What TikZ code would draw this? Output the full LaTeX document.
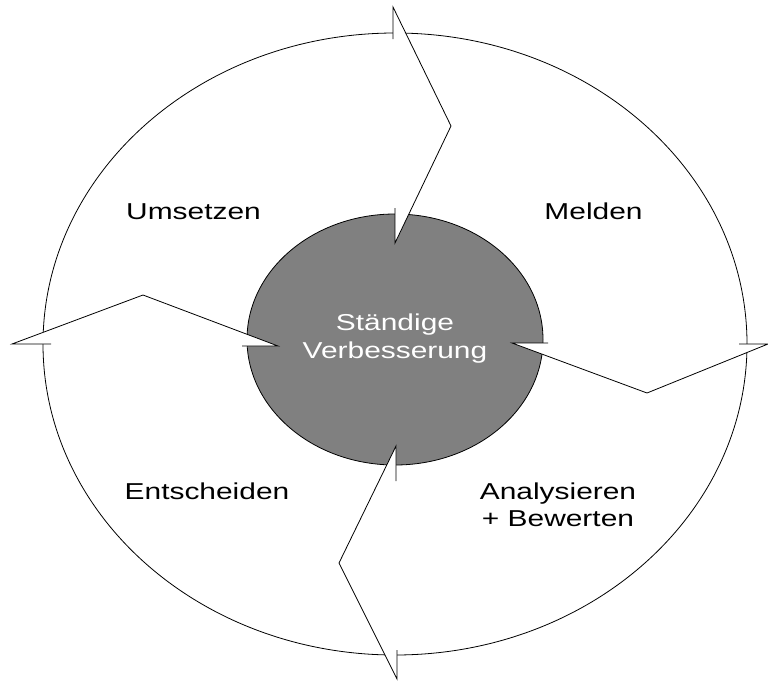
\documentclass[tikz,border=0pt]{standalone}
\usepackage{fontspec}
\newfontfamily\labelfont[FakeStretch=1.3]{Liberation Sans}

\begin{document}
\begin{tikzpicture}[x=1pt, y=-1pt, line width=0.8pt,
    every node/.style={font=\labelfont\fontsize{23}{28}\selectfont, inner sep=0pt, align=center}]
            \useasboundingbox (0,0) rectangle (768,680);
            % Kreislauf
            \draw (395,344) ellipse [x radius=352, y radius=311];
            \draw[fill=gray] (395,339.5) ellipse [x radius=148, y radius=125.5];
            % Blitzpfeile
            \coordinate (up1) at (393,39);  \coordinate (up2) at (393,7);
            \coordinate (up3) at (451,126); \coordinate (up4) at (395,243);
            \coordinate (up5) at (395,208);
            \coordinate (lt1) at (51,344);  \coordinate (lt2) at (12,344);
            \coordinate (lt3) at (143,295); \coordinate (lt4) at (278,346);
            \coordinate (lt5) at (242,346);
            \coordinate (rt1) at (548,343); \coordinate (rt2) at (512,343);
            \coordinate (rt3) at (647,393); \coordinate (rt4) at (768,344);
            \coordinate (rt5) at (739,344);
            \coordinate (dn1) at (396,481); \coordinate (dn2) at (396,446);
            \coordinate (dn3) at (339,563); \coordinate (dn4) at (397,679);
            \coordinate (dn5) at (397,650);
            \foreach \b in {up,lt,rt,dn} {
                \fill[white] (\b1) -- (\b2) -- (\b3) -- (\b4) -- (\b5) -- cycle;
                \draw[line join=miter] (\b1) -- (\b2) -- (\b3) -- (\b4) -- (\b5);
            }
            % Beschriftung
            \node[anchor=base] (umsetzen) at (193.5,219) {Umsetzen};
            \node[anchor=base] (melden) at (593.5,219) {Melden};
            \node[anchor=base] (entscheiden) at (207,499) {Entscheiden};
            \node[font=\labelfont\fontsize{23}{27}\selectfont] (analyse) at (558,505) {Analysieren\\+ Bewerten};
            \node[text=white] (ziel) at (395,339) {Ständige\\Verbesserung};
        \end{tikzpicture}
\end{document}
